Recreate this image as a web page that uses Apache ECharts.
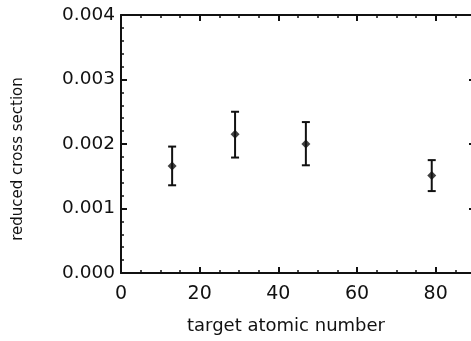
<!DOCTYPE html>
<html>
<head>
<meta charset="utf-8">
<script src="https://cdn.jsdelivr.net/npm/echarts@6/dist/echarts.min.js"></script>
<style>
  html, body { margin: 0; padding: 0; background: #fff; }
  #chart { width: 471px; height: 341px; }
</style>
</head>
<body>
<div id="chart"></div>
<script>
// target atomic numbers (Al, Cu, Ag, Au)
const atomicNumbers = [13, 29, 47, 79];
const crossSection = [0.00166, 0.00215, 0.00200, 0.00151];
const errLow = [0.00136, 0.00179, 0.00167, 0.00127];
const errHigh = [0.00196, 0.00250, 0.00234, 0.00175];

const xTicks = [0, 20, 40, 60, 80];
const yTicks = [0.000, 0.001, 0.002, 0.003, 0.004];

const FONT = 'DejaVu Sans';
const INK = '#111';

const chart = echarts.init(document.getElementById('chart'));

const baseAxis = {
  axisLine: { show: true, onZero: false, lineStyle: { color: INK, width: 2 } },
  axisTick: { show: true, inside: true, length: 6, lineStyle: { color: INK, width: 2 } },
  minorTick: { show: true, length: 3, lineStyle: { color: INK, width: 1.5 } },
  splitLine: { show: false },
};

const xCommon = {
  type: 'value',
  min: 0,
  max: 90,
  interval: 20,
  ...baseAxis,
  minorTick: { ...baseAxis.minorTick, splitNumber: 4 },
};

const yCommon = {
  type: 'value',
  min: yTicks[0],
  max: yTicks[yTicks.length - 1],
  interval: 0.001,
  ...baseAxis,
  minorTick: { ...baseAxis.minorTick, splitNumber: 5 },
};

chart.setOption({
  animation: false,
  // plot runs a few pixels past the right edge, as in the source figure
  grid: { left: 121, top: 15, width: 354, height: 258, outerBoundsMode: 'none', containLabel: false },
  graphic: [
    {
      type: 'text',
      x: 286, y: 326,
      style: {
        text: 'target atomic number', fontFamily: FONT, fontSize: 18, fill: INK,
        align: 'center', verticalAlign: 'middle',
      },
    },
    {
      type: 'text',
      x: 18, y: 159, rotation: Math.PI / 2,
      style: {
        text: 'reduced cross section', fontFamily: FONT, fontSize: 15, fill: INK,
        align: 'center', verticalAlign: 'middle',
      },
    },
  ],
  xAxis: [
    {
      ...xCommon,
      position: 'bottom',
      axisLabel: {
        fontFamily: FONT, fontSize: 19, color: INK, margin: 12,
        formatter: v => (xTicks.includes(v) ? String(v) : ''),
      },
    },
    { ...xCommon, position: 'top', axisLabel: { show: false } },
  ],
  yAxis: [
    {
      ...yCommon,
      position: 'left',
      axisLabel: {
        fontFamily: FONT, fontSize: 18.5, color: INK, margin: 6,
        formatter: v => v.toFixed(3),
      },
    },
    { ...yCommon, position: 'right', axisLabel: { show: false } },
  ],
  series: [
    {
      type: 'custom',
      xAxisIndex: 0,
      yAxisIndex: 0,
      data: atomicNumbers.map((z, i) => [z, errLow[i], errHigh[i]]),
      renderItem: (params, api) => {
        const lo = api.coord([api.value(0), api.value(1)]);
        const hi = api.coord([api.value(0), api.value(2)]);
        const cap = 4;
        const style = { stroke: INK, lineWidth: 2 };
        return {
          type: 'group',
          children: [
            { type: 'line', shape: { x1: lo[0], y1: lo[1], x2: hi[0], y2: hi[1] }, style },
            { type: 'line', shape: { x1: lo[0] - cap, y1: lo[1], x2: lo[0] + cap, y2: lo[1] }, style },
            { type: 'line', shape: { x1: hi[0] - cap, y1: hi[1], x2: hi[0] + cap, y2: hi[1] }, style },
          ],
        };
      },
      z: 2,
    },
    {
      type: 'scatter',
      xAxisIndex: 0,
      yAxisIndex: 0,
      symbol: 'diamond',
      symbolSize: 9,
      itemStyle: { color: INK },
      data: atomicNumbers.map((z, i) => [z, crossSection[i]]),
      z: 3,
    },
  ],
});
</script>
</body>
</html>
